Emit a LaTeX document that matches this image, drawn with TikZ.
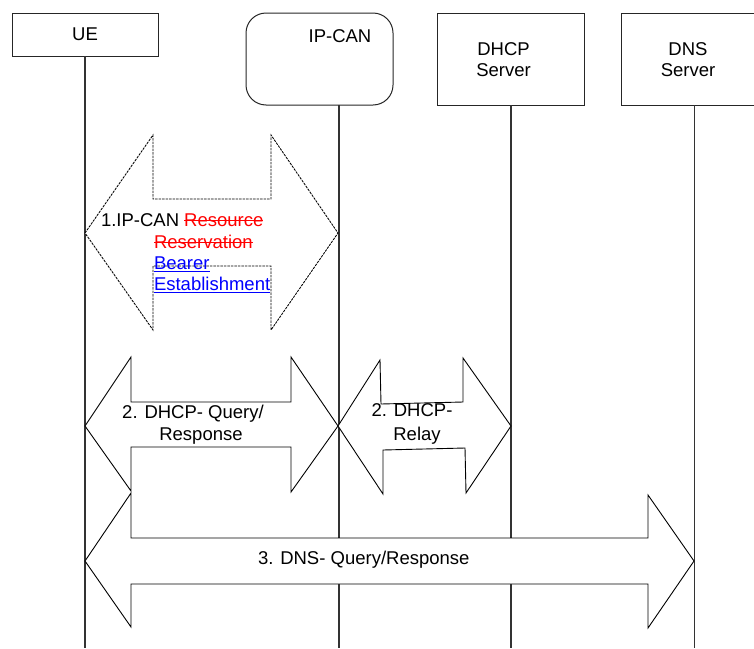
\documentclass[tikz,border=0pt]{standalone}
\usepackage{fontspec}
\setmainfont{Liberation Sans}
\begin{document}
\begin{tikzpicture}[x=1pt,y=-1pt,
  every node/.style={font=\fontsize{18.5}{21.5}\selectfont, inner sep=0pt, outer sep=0pt},
  entity/.style={draw=black!85, line width=1pt, minimum width=147pt, minimum height=92pt},
  lifeline/.style={draw=black!80, line width=1.5pt},
  blockarrow/.style={draw=black, fill=white, line width=0.9pt, line join=miter},
  dashedarrow/.style={blockarrow, line width=0.85pt, dash pattern=on 2.5pt off 1pt},
  msg/.style={anchor=base},
  msgleft/.style={anchor=base west},
  deleted/.style={msgleft, text=red},
  inserted/.style={msgleft, text=blue},
  strikeline/.style={draw=red, line width=1pt},
  underline/.style={draw=blue, line width=1pt}
]
\useasboundingbox (0,0) rectangle (754,648);
\clip (0,0) rectangle (754,648);

% entities
\node[entity, minimum width=146pt, minimum height=43pt] (ue) at (85,34.5) {UE};
\node[entity, rounded corners=20pt] (ipcan) at (319.5,59) {};
\node (ipcanlbl) at (340,36) {IP-CAN};
\node[entity] (dhcp) at (510.5,59) {};
\node[align=center] (dhcplbl) at (503.5,59.5) {DHCP\\Server};
\node[entity] (dns) at (694.5,59) {};
\node[align=center] (dnslbl) at (688,59.5) {DNS\\Server};

% lifelines
\coordinate (ueend) at (85,648);
\coordinate (ipend) at (339,648);
\coordinate (dhcpend) at (511,648);
\coordinate (dnsend) at (694.5,648);
\draw[lifeline] (ue.south) -- (ueend);
\draw[lifeline] (ipcan.south -| ipend) -- (ipend);
\draw[lifeline] (dhcp.south -| dhcpend) -- (dhcpend);
\draw[lifeline] (dns.south) -- (dnsend);

% 1. bearer establishment
\draw[dashedarrow] (85,233) -- (153,135) -- (153,199) -- (271,199) -- (271,135)
  -- (338,233) -- (271,330) -- (271,266) -- (153,266) -- (153,330) -- cycle;
\node[msgleft] (m1a) at (101,226) {1.IP-CAN};
\node[deleted] (m1r) at ([xshift=5.1pt]m1a.base east) {Resource};
\node[deleted] (m1b) at (154,248) {Reservation};
\node[inserted] (m1c) at (154,269) {Bearer};
\node[inserted] (m1d) at (154,290) {Establishment};
\draw[strikeline] ([yshift=5.5pt]m1r.base west) -- ([yshift=5.5pt]m1r.base east);
\draw[strikeline] ([yshift=5.5pt]m1b.base west) -- ([yshift=5.5pt]m1b.base east);
\draw[underline] ([yshift=-2.5pt]m1c.base west) -- ([yshift=-2.5pt]m1c.base east);
\draw[underline] ([yshift=-2.5pt]m1d.base west) -- ([yshift=-2.5pt]m1d.base east);

% 2. DHCP query / response
\draw[blockarrow] (85,426) -- (131,357) -- (131,402) -- (291,402) -- (291,357)
  -- (338,426) -- (291,492) -- (291,447) -- (131,447) -- (131,491) -- cycle;
\node[msg] (m2a) at (193,418) {2. DHCP- Query/};
\node[msg] (m2b) at (201,440) {Response};

% 2. DHCP relay
\draw[blockarrow] (338,426) -- (380,360) -- (381,404) -- (463,402) -- (463,358)
  -- (511,426) -- (466,493) -- (465,448) -- (383,450) -- (383,494) -- cycle;
\node[msg] (m2c) at (412,416) {2. DHCP-};
\node[msg] (m2d) at (417,440) {Relay};

% 3. DNS query / response
\draw[blockarrow] (85,561) -- (131,493) -- (131,538) -- (648,538) -- (648,495)
  -- (694,561) -- (648,628) -- (648,584) -- (131,584) -- (131,627) -- cycle;
\node[msgleft] (m3) at (258,564) {3. DNS- Query/Response};
\end{tikzpicture}
\end{document}
